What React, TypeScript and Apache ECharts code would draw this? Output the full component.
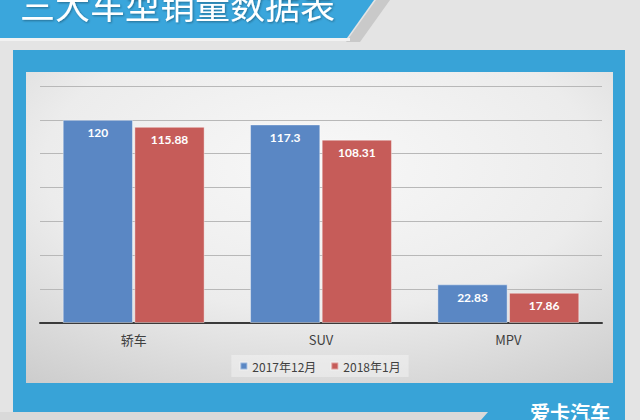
import React, { useEffect, useRef } from "react";
import * as echarts from "echarts";

const categories = ["轿车", "SUV", "MPV"];
const series2017Dec = [120, 117.3, 22.83];
const series2018Jan = [115.88, 108.31, 17.86];
const seriesNames = ["2017年12月", "2018年1月"];
const titleText = "三大车型销量数据表";
const logoText = "爱卡汽车";

export default function App() {
  const ref = useRef<HTMLDivElement>(null);
  useEffect(() => {
    if (!ref.current) return;
    const chart = echarts.init(ref.current, null, { renderer: "svg" });
    const labelStyle = {
      show: true,
      position: "insideTop",
      distance: 7,
      color: "#ffffff",
      fontSize: 12,
      fontWeight: "bold",
      fontFamily: "Lato, 'Noto Sans', sans-serif",
    };
    chart.setOption({
      animation: false,
      backgroundColor: "#e4e4e4",
      graphic: [
        // blue frame
        { type: "rect", z: -10, shape: { x: 13, y: 50, width: 612, height: 370 }, style: { fill: "#38a3d7" } },
        // inner panel
        {
          type: "rect",
          z: -9,
          shape: { x: 26, y: 72, width: 587, height: 311 },
          style: {
            fill: new echarts.graphic.RadialGradient(0.5, 0.3, 0.85, [
              { offset: 0, color: "#f8f8f8" },
              { offset: 0.55, color: "#ececec" },
              { offset: 1, color: "#cdcdcd" },
            ]),
          },
        },
        // title banner shadow
        { type: "polygon", z: -8, shape: { points: [[376, 0], [390, 0], [360, 42], [346, 42]] }, style: { fill: "#c9c9c9" } },
        // title banner
        { type: "polygon", z: -7, shape: { points: [[0, 0], [374, 0], [347, 38], [0, 38]] }, style: { fill: "#3aa6dc" } },
        { type: "rect", z: -7, shape: { x: 0, y: 38, width: 350, height: 3 }, style: { fill: "#f2f2f2" } },
        {
          type: "text",
          z: 10,
          x: 20,
          y: 3,
          style: {
            text: titleText,
            fill: "#ffffff",
            font: "35px 'Noto Sans CJK SC', sans-serif",
            textVerticalAlign: "middle",
            textAlign: "left",
            textShadowColor: "rgba(0,0,0,0.35)",
            textShadowBlur: 2,
            textShadowOffsetX: 1,
            textShadowOffsetY: 1,
          },
        },
        // bottom gray banner
        { type: "polygon", z: -6, shape: { points: [[0, 412], [488, 412], [481, 420], [0, 420]] }, style: { fill: "#d9d9d9" } },
        {
          type: "text",
          z: 10,
          x: 530,
          y: 402,
          style: {
            text: logoText,
            fill: "#ffffff",
            font: "bold 20px 'Noto Sans CJK SC', sans-serif",
            textVerticalAlign: "top",
            textAlign: "left",
          },
        },
      ],
      legend: {
        data: seriesNames,
        left: "center",
        top: 355,
        itemWidth: 7,
        itemHeight: 7,
        itemGap: 14,
        icon: "rect",
        backgroundColor: "rgba(255,255,255,0.35)",
        padding: [5, 8],
        textStyle: { color: "#404040", fontSize: 12, fontFamily: "'Noto Sans CJK SC', sans-serif" },
      },
      grid: { left: 40, right: 38, top: 86, bottom: 97, containLabel: false },
      xAxis: {
        type: "category",
        data: categories,
        axisLine: { show: true, lineStyle: { color: "#3a3a3a", width: 2 } },
        axisTick: { show: false },
        axisLabel: { color: "#404040", fontSize: 13, margin: 10, fontFamily: "'Noto Sans CJK SC', sans-serif" },
      },
      yAxis: {
        type: "value",
        min: 0,
        max: 140,
        interval: 20,
        axisLabel: { show: false },
        axisLine: { show: false },
        axisTick: { show: false },
        splitLine: { lineStyle: { color: "#b8b8b8", width: 1 } },
      },
      series: [
        {
          name: seriesNames[0],
          type: "bar",
          data: series2017Dec,
          barWidth: "37.5%",
          barGap: "2%",
          itemStyle: { color: "#5a87c4", borderColor: "rgba(255,255,255,0.4)", borderWidth: 1 },
          label: labelStyle,
        },
        {
          name: seriesNames[1],
          type: "bar",
          data: series2018Jan,
          barWidth: "37.5%",
          itemStyle: { color: "#c65c59", borderColor: "rgba(255,255,255,0.4)", borderWidth: 1 },
          label: labelStyle,
        },
      ],
    });
    return () => chart.dispose();
  }, []);
  return (
    <div
      ref={ref}
      style={{ position: "fixed", left: 0, top: 0, width: 640, height: 420 }}
    />
  );
}
